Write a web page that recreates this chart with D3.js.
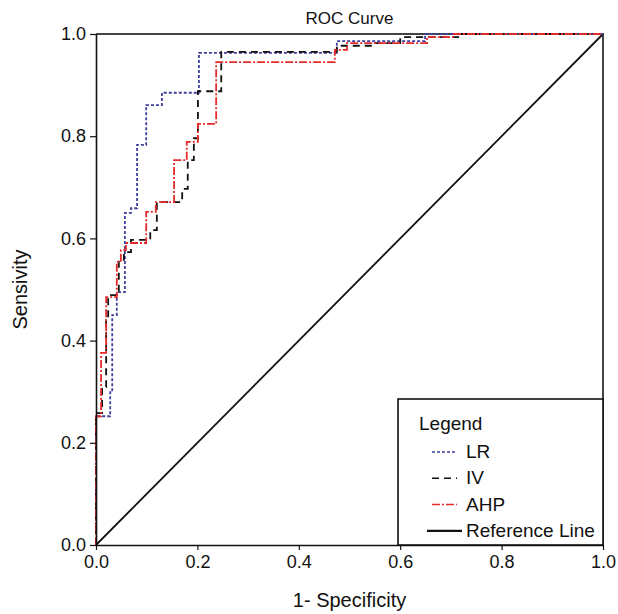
<!DOCTYPE html>
<html>
<head>
<meta charset="utf-8">
<script src="https://cdn.jsdelivr.net/npm/d3@7"></script>
<style>
  body { margin: 0; background: #fff; }
  svg { display: block; font-family: "Liberation Sans", Arial, sans-serif; }
</style>
</head>
<body>
<script>
// ROC points [1 - specificity, sensitivity]
const lrPoints = [[0,0],[0,0.252],[0.028,0.252],[0.028,0.299],[0.032,0.299],[0.032,0.450],[0.041,0.450],[0.041,0.495],
  [0.057,0.495],[0.057,0.650],[0.069,0.650],[0.069,0.659],[0.081,0.659],[0.081,0.783],[0.099,0.783],[0.099,0.861],
  [0.130,0.861],[0.130,0.885],[0.203,0.885],[0.203,0.963],[0.475,0.963],[0.475,0.986],[0.649,0.986],[0.649,1],[1,1]];
const ivPoints = [[0,0],[0,0.258],[0.012,0.258],[0.012,0.309],[0.020,0.309],[0.020,0.440],[0.024,0.440],[0.024,0.489],
  [0.045,0.489],[0.045,0.558],[0.055,0.558],[0.055,0.573],[0.069,0.573],[0.069,0.597],[0.107,0.597],[0.107,0.616],
  [0.120,0.616],[0.120,0.671],[0.170,0.671],[0.170,0.697],[0.181,0.697],[0.181,0.753],[0.193,0.753],[0.193,0.796],
  [0.201,0.796],[0.201,0.888],[0.247,0.888],[0.247,0.965],[0.475,0.965],[0.475,0.977],[0.546,0.977],[0.546,0.982],
  [0.600,0.982],[0.600,0.994],[0.718,0.994],[0.718,1],[1,1]];
const ahpPoints = [[0,0],[0,0.252],[0.010,0.252],[0.010,0.376],[0.020,0.376],[0.020,0.485],[0.041,0.485],[0.041,0.554],
  [0.049,0.554],[0.049,0.577],[0.059,0.577],[0.059,0.591],[0.099,0.591],[0.099,0.652],[0.118,0.652],[0.118,0.671],
  [0.154,0.671],[0.154,0.753],[0.179,0.753],[0.179,0.789],[0.201,0.789],[0.201,0.824],[0.237,0.824],[0.237,0.945],
  [0.471,0.945],[0.471,0.969],[0.495,0.969],[0.495,0.982],[0.653,0.982],[0.653,0.994],[0.704,0.994],[0.704,1],[1,1]];
const refPoints = [[0,0],[1,1]];
const tickValues = [0, 0.2, 0.4, 0.6, 0.8, 1.0];
const legendNames = ["LR", "IV", "AHP", "Reference Line"];

const width = 618, height = 614;
const margin = {top: 34, right: 15, bottom: 69, left: 96};

const series = [
  {name: "Reference Line", points: refPoints, color: "#111", dash: null, w: 1.8},
  {name: "LR", points: lrPoints, color: "#3f3f9e", dash: "3,2", w: 1.8},
  {name: "IV", points: ivPoints, color: "#111", dash: "7,5", w: 1.8},
  {name: "AHP", points: ahpPoints, color: "#e52a2a", dash: "8,2,2,2", w: 1.8}
];

const x = d3.scaleLinear().domain([0, 1]).range([margin.left, width - margin.right]);
const y = d3.scaleLinear().domain([0, 1]).range([height - margin.bottom, margin.top]);

const svg = d3.select("body").append("svg")
  .attr("width", width)
  .attr("height", height);

// frame top / right
svg.append("path")
  .attr("d", `M${x(0)},${y(1)}H${x(1)}V${y(0)}`)
  .attr("fill", "none")
  .attr("stroke", "#444")
  .attr("stroke-width", 2);

const line = d3.line().x(d => x(d[0])).y(d => y(d[1]));

svg.append("g")
  .selectAll("path")
  .data(series)
  .join("path")
    .attr("d", d => line(d.points))
    .attr("fill", "none")
    .attr("stroke", d => d.color)
    .attr("stroke-width", d => d.w)
    .attr("stroke-dasharray", d => d.dash);

// axes
const xAxis = svg.append("g")
  .attr("transform", `translate(0,${y(0)})`)
  .call(d3.axisBottom(x).tickValues(tickValues).tickFormat(d3.format(".1f")).tickSize(5).tickSizeOuter(0));
const yAxis = svg.append("g")
  .attr("transform", `translate(${x(0)},0)`)
  .call(d3.axisLeft(y).tickValues(tickValues).tickFormat(d3.format(".1f")).tickSize(6).tickSizeOuter(0));

[xAxis, yAxis].forEach(a => {
  a.select(".domain").attr("stroke", "#111").attr("stroke-width", 1.6);
  a.selectAll(".tick line").attr("stroke", "#111").attr("stroke-width", 1.2);
  a.selectAll(".tick text").attr("font-size", 18).attr("fill", "#111")
    .attr("font-family", "Liberation Sans, Arial, sans-serif");
});
xAxis.selectAll(".tick text").attr("dy", "0.85em");
yAxis.selectAll(".tick text").attr("dx", "-0.05em");

// titles
svg.append("text")
  .attr("x", (x(0) + x(1)) / 2).attr("y", 24)
  .attr("text-anchor", "middle").attr("font-size", 17).attr("fill", "#111")
  .text("ROC Curve");
svg.append("text")
  .attr("x", (x(0) + x(1)) / 2).attr("y", 607)
  .attr("text-anchor", "middle").attr("font-size", 20).attr("fill", "#111")
  .text("1- Specificity");
svg.append("text")
  .attr("transform", `translate(27,${(y(0) + y(1)) / 2}) rotate(-90)`)
  .attr("text-anchor", "middle").attr("font-size", 20).attr("fill", "#111")
  .text("Sensivity");

// legend
const lx = 398, ly = 399;
const legend = svg.append("g");
legend.append("rect")
  .attr("x", lx).attr("y", ly)
  .attr("width", x(1) - lx).attr("height", y(0) - ly)
  .attr("fill", "#fff").attr("stroke", "#111").attr("stroke-width", 1.6);
legend.append("text")
  .attr("x", lx + 21).attr("y", ly + 31)
  .attr("font-size", 19).attr("fill", "#111")
  .text("Legend");

const items = legendNames.map(n => series.find(s => s.name === n));
const row = legend.selectAll("g.item")
  .data(items)
  .join("g")
    .attr("class", "item")
    .attr("transform", (d, i) => `translate(${lx}, ${ly + 59 + i * 26.3})`);
row.append("line")
  .attr("x1", d => d.name === "Reference Line" ? 29 : 34)
  .attr("x2", d => d.name === "Reference Line" ? 64 : 59)
  .attr("y1", -6).attr("y2", -6)
  .attr("stroke", d => d.color)
  .attr("stroke-width", d => d.name === "Reference Line" ? 2.2 : 1.5)
  .attr("stroke-dasharray", d => d.dash);
row.append("text")
  .attr("x", 68).attr("y", 0)
  .attr("font-size", 19).attr("fill", "#111")
  .text(d => d.name);
</script>
</body>
</html>
